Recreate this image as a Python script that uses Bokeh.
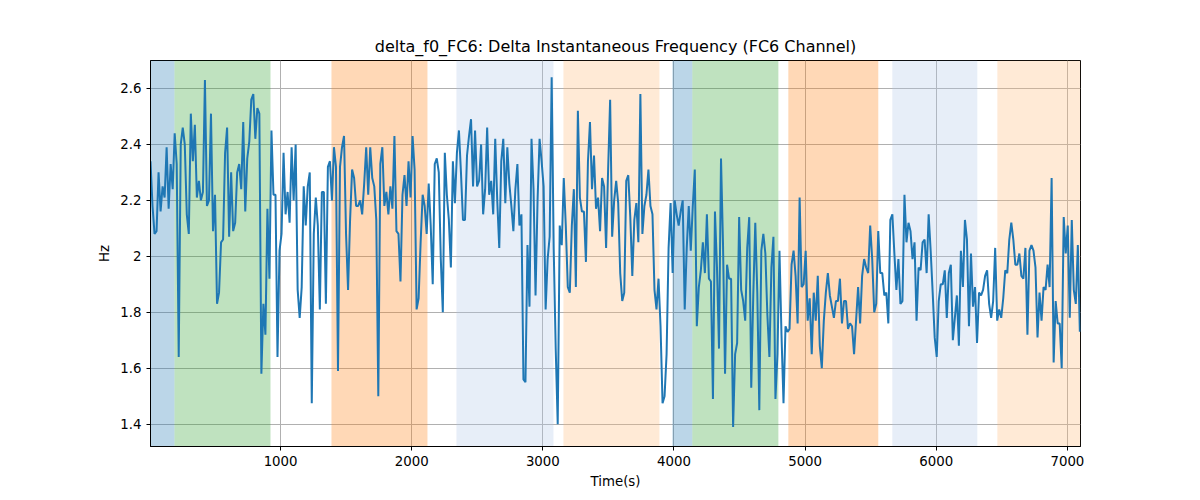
import numpy as np
from bokeh.plotting import figure
from bokeh.models import BoxAnnotation, Range1d, FixedTicker
from bokeh.embed import file_html
from bokeh.resources import INLINE

hz = [2.34,2.18,2.08,2.09,2.30,2.16,2.25,2.21,2.39,2.17,2.33,2.24,2.44,2.33,1.64,2.40,2.46,2.40,2.15,2.08,
      2.51,2.34,2.47,2.21,2.27,2.20,2.23,2.63,2.18,2.20,2.51,2.09,2.22,1.83,1.87,2.05,2.06,2.37,2.46,2.07,
      2.30,2.09,2.12,2.30,2.33,2.24,2.48,2.16,2.35,2.41,2.56,2.58,2.42,2.53,2.51,1.58,1.83,1.72,2.17,1.92,
      2.45,2.22,2.22,1.64,2.02,2.08,2.37,2.15,2.23,2.12,2.39,2.20,2.40,1.88,1.78,1.89,2.25,2.11,2.25,2.30,
      1.475,2.08,2.21,2.11,1.81,2.23,2.23,1.83,2.32,2.34,2.20,2.39,2.32,1.59,
      2.32,2.39,2.43,2.08,1.88,2.13,2.31,2.28,2.18,2.18,2.20,2.15,2.26,2.39,2.22,2.39,2.28,2.25,2.13,1.50,
      2.33,2.39,2.18,2.23,2.15,2.25,2.17,2.43,2.09,2.08,1.91,2.22,2.29,2.18,2.34,2.21,2.43,2.31,1.81,1.85,
      2.05,2.22,2.18,2.08,2.26,2.11,1.90,2.33,2.35,2.30,1.99,1.80,2.37,2.22,2.13,1.96,2.34,2.19,2.37,2.45,
      2.30,2.13,2.13,2.36,2.43,2.49,2.25,2.45,2.25,2.27,2.40,2.15,2.24,2.46,2.22,2.27,2.15,2.42,2.20,2.03,
      2.34,2.42,2.19,2.39,2.26,2.18,2.09,2.24,2.33,2.11,2.15,1.56,1.55,2.04,1.82,2.42,
      2.24,1.86,2.20,2.42,2.34,2.25,1.81,1.99,2.07,2.64,2.03,1.67,1.40,2.11,2.04,2.28,2.11,1.89,1.87,2.11,
      2.24,1.89,2.52,2.21,2.16,2.16,1.98,2.34,2.48,2.24,2.36,2.17,2.21,2.09,2.28,2.25,2.03,2.31,2.56,2.07,
      2.20,2.27,2.19,1.94,1.84,1.87,2.27,2.29,2.14,1.93,2.13,2.19,2.05,2.58,2.08,2.18,2.22,2.31,2.18,2.15,
      1.88,1.81,1.92,1.75,1.475,1.50,1.65,2.03,2.19,1.94,2.20,2.15,2.11,2.16,2.20,1.81,2.03,2.18,2.02,2.18,
      2.31,1.75,1.89,1.95,2.05,1.94,2.15,1.92,1.91,1.49,2.16,1.96,1.67,2.35,2.04,1.58,
      1.97,1.92,1.92,1.39,1.65,1.69,2.14,1.88,1.84,1.77,2.03,2.14,1.53,1.86,2.12,1.87,1.45,2.02,2.08,2.01,
      1.79,1.64,1.96,2.07,1.49,1.65,2.02,1.72,1.475,1.75,1.73,1.74,1.97,2.02,1.93,1.76,2.21,1.89,1.90,2.02,
      1.77,1.85,1.65,1.87,1.77,1.93,1.68,1.60,1.77,1.87,1.94,1.86,1.82,1.78,1.84,1.84,1.92,1.76,1.84,1.84,
      1.74,1.76,1.75,1.65,1.77,1.89,1.76,1.93,1.99,1.96,1.94,2.11,1.99,1.80,1.83,2.09,1.94,1.94,1.86,1.87,
      1.76,2.13,2.15,2.01,1.88,1.99,1.83,1.84,2.22,2.05,2.12,2.09,1.99,2.05,
      1.77,1.96,1.95,2.05,2.06,1.94,2.15,2.02,1.87,1.71,1.64,1.84,1.90,1.90,1.95,1.78,1.94,1.97,1.70,1.78,
      1.86,1.68,2.02,1.89,2.13,2.06,1.75,2.01,1.82,1.89,1.69,1.87,1.86,1.88,1.93,1.95,1.83,1.78,1.84,2.03,
      1.77,1.81,1.78,1.85,1.95,1.94,2.06,2.12,2.06,1.97,1.97,2.01,1.93,1.92,2.03,1.72,2.02,2.04,2.02,1.96,
      1.71,1.87,1.77,1.89,1.88,1.97,1.89,2.28,1.62,1.84,1.76,1.76,1.60,2.14,2.01,2.11,1.78,2.13,1.88,1.83,
      2.04,1.73]
time_s = np.linspace(8, 7095, len(hz))

bands = [(8, 191, "#1f77b4", 0.3), (191, 923, "#2ca02c", 0.3), (1388, 2120, "#ff7f0e", 0.3),
         (2341, 3081, "#aec7e8", 0.3), (3157, 3889, "#ffbb78", 0.3), (3988, 4140, "#1f77b4", 0.3),
         (4140, 4796, "#2ca02c", 0.3), (4872, 5558, "#ff7f0e", 0.3), (5665, 6313, "#aec7e8", 0.3),
         (6466, 7100, "#ffbb78", 0.3)]

p = figure(width=1184, height=491, output_backend="svg", toolbar_location=None,
           title="delta_f0_FC6: Delta Instantaneous Frequency (FC6 Channel)",
           x_axis_label="Time(s)", y_axis_label="Hz",
           min_border_left=150, min_border_right=104, min_border_top=60, min_border_bottom=39)
p.x_range = Range1d(8, 7100)
p.y_range = Range1d(1.32, 2.70)
for a, b, c, al in bands:
    p.add_layout(BoxAnnotation(left=a, right=b, fill_color=c, fill_alpha=al, line_alpha=0, level="underlay"))
p.line(time_s, hz, line_color="#1f77b4", line_width=2)

p.title.align = "center"
p.title.text_font_style = "normal"
p.title.text_font_size = "12pt"
p.title.text_font = "DejaVu Sans"
p.title.text_color = "black"
p.xaxis.ticker = FixedTicker(ticks=[1000, 2000, 3000, 4000, 5000, 6000, 7000])
p.yaxis.ticker = FixedTicker(ticks=[1.4, 1.6, 1.8, 2.0, 2.2, 2.4, 2.6])
for ax in (p.xaxis[0], p.yaxis[0]):
    ax.axis_label_text_font_style = "normal"
    ax.axis_label_text_font_size = "10pt"
    ax.major_label_text_font_size = "10pt"
    ax.axis_label_text_font = "DejaVu Sans"
    ax.major_label_text_font = "DejaVu Sans"
    ax.axis_label_text_color = "black"
    ax.major_label_text_color = "black"
    ax.minor_tick_line_color = None
    ax.major_tick_in = 0
    ax.major_tick_out = 4
p.grid.grid_line_color = "#b0b0b0"
p.grid.grid_line_alpha = 1.0
p.grid.level = "underlay"
p.outline_line_color = "black"
p.background_fill_color = "white"

open("out.html", "w").write(file_html(p, INLINE))
